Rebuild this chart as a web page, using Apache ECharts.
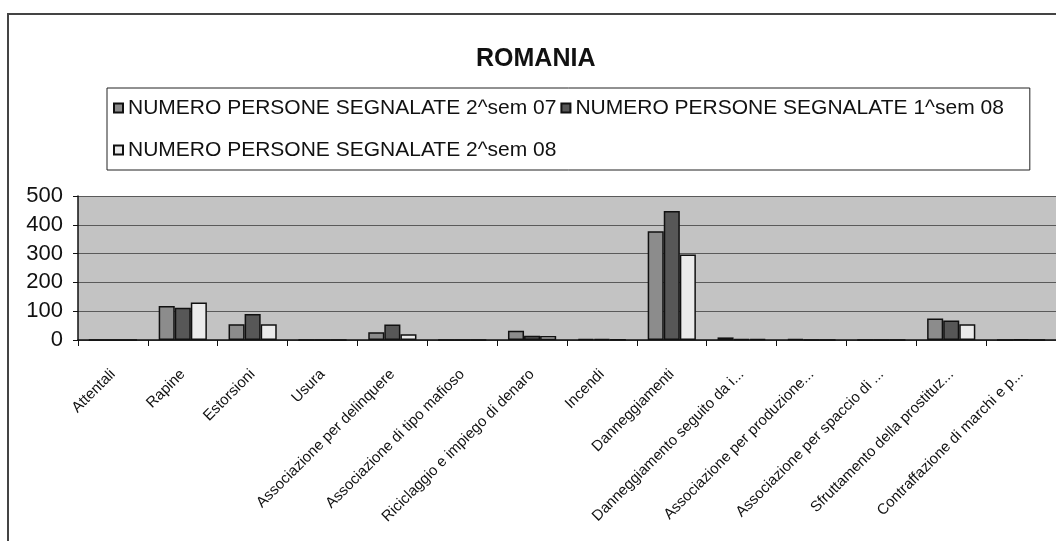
<!DOCTYPE html>
<html>
<head>
<meta charset="utf-8">
<title>ROMANIA</title>
<script src="https://cdn.jsdelivr.net/npm/echarts@6/dist/echarts.min.js"></script>
<style>
  html, body { margin: 0; padding: 0; background: #fff; }
  #chart { width: 1056px; height: 541px; }
</style>
</head>
<body>
<div id="chart"></div>
<script>
// categorie (etichette asse x)
const categories = [
  'Attentali', 'Rapine', 'Estorsioni', 'Usura',
  'Associazione per delinquere', 'Associazione di tipo mafioso',
  'Riciclaggio e impiego di denaro', 'Incendi', 'Danneggiamenti',
  'Danneggiamento seguito da i...', 'Associazione per produzione...',
  'Associazione per spaccio di ...', 'Sfruttamento della prostituz...',
  'Contraffazione di marchi e p...'
]
const seriesNames = [
  'NUMERO PERSONE SEGNALATE 2^sem 07',
  'NUMERO PERSONE SEGNALATE 1^sem 08',
  'NUMERO PERSONE SEGNALATE 2^sem 08'
]
// valori
const sem2_07 = [0, 118, 55, 0, 27, 0, 32, 3, 378, 9, 3, 0, 75, 0]
const sem1_08 = [0, 112, 90, 0, 54, 0, 15, 3, 448, 3, 0, 0, 68, 2]
const sem2_08 = [0, 130, 55, 0, 20, 0, 14, 1, 297, 3, 0, 0, 55, 0]
const yTicks = [0, 100, 200, 300, 400, 500]

const colors = ['#8c8c8c', '#575757', '#ebebeb']
const font = "'Liberation Sans', Arial, sans-serif"

const chart = echarts.init(document.getElementById('chart'))

function makeSeries(name, data, color) {
  return {
    name: name,
    type: 'bar',
    data: data,
    barGap: '0%',
    barCategoryGap: '31%',
    itemStyle: { color: color, borderColor: '#111', borderWidth: 1.5 },
    animation: false
  }
}

chart.setOption({
  backgroundColor: '#fff',
  title: {
    text: 'ROMANIA',
    left: 471,
    top: 42,
    textStyle: { fontFamily: font, fontSize: 25, fontWeight: 'bold', color: '#111' }
  },
  legend: {
    left: 107,
    top: 88,
    width: 905,
    orient: 'horizontal',
    padding: [1, 26, 1, 6],
    itemGap: 4,
    itemWidth: 9,
    itemHeight: 9,
    icon: 'rect',
    borderColor: '#222',
    borderWidth: 1,
    textStyle: { fontFamily: font, fontSize: 21, color: '#111', lineHeight: 38 },
    data: seriesNames
  },
  graphic: [{
    type: 'rect',
    shape: { x: 8, y: 14, width: 1100, height: 600 },
    style: { fill: null, stroke: '#444', lineWidth: 2 },
    silent: true
  }],
  grid: {
    left: 78,
    right: 0,
    top: 196,
    bottom: 201,
    show: true,
    backgroundColor: '#c3c3c3',
    borderWidth: 0
  },
  xAxis: {
    type: 'category',
    data: categories,
    axisLine: { show: true, lineStyle: { color: '#111', width: 1.5 } },
    axisTick: { show: true, length: 6, lineStyle: { color: '#111' } },
    axisLabel: {
      rotate: 45,
      interval: 0,
      margin: 32,
      fontFamily: "'Liberation Sans Narrow', 'Liberation Sans', sans-serif",
      fontSize: 15,
      color: '#111'
    },
    splitLine: { show: false }
  },
  yAxis: {
    type: 'value',
    min: yTicks[0],
    max: yTicks[yTicks.length - 1],
    interval: 100,
    axisLine: { show: true, lineStyle: { color: '#111', width: 1.5 } },
    axisTick: { show: true, length: 5, lineStyle: { color: '#111' } },
    axisLabel: { margin: 15, fontFamily: font, fontSize: 22, color: '#111' },
    splitLine: { show: true, lineStyle: { color: '#5a5a5a', width: 1 } }
  },
  series: [
    makeSeries(seriesNames[0], sem2_07, colors[0]),
    makeSeries(seriesNames[1], sem1_08, colors[1]),
    makeSeries(seriesNames[2], sem2_08, colors[2])
  ]
})
</script>
</body>
</html>
